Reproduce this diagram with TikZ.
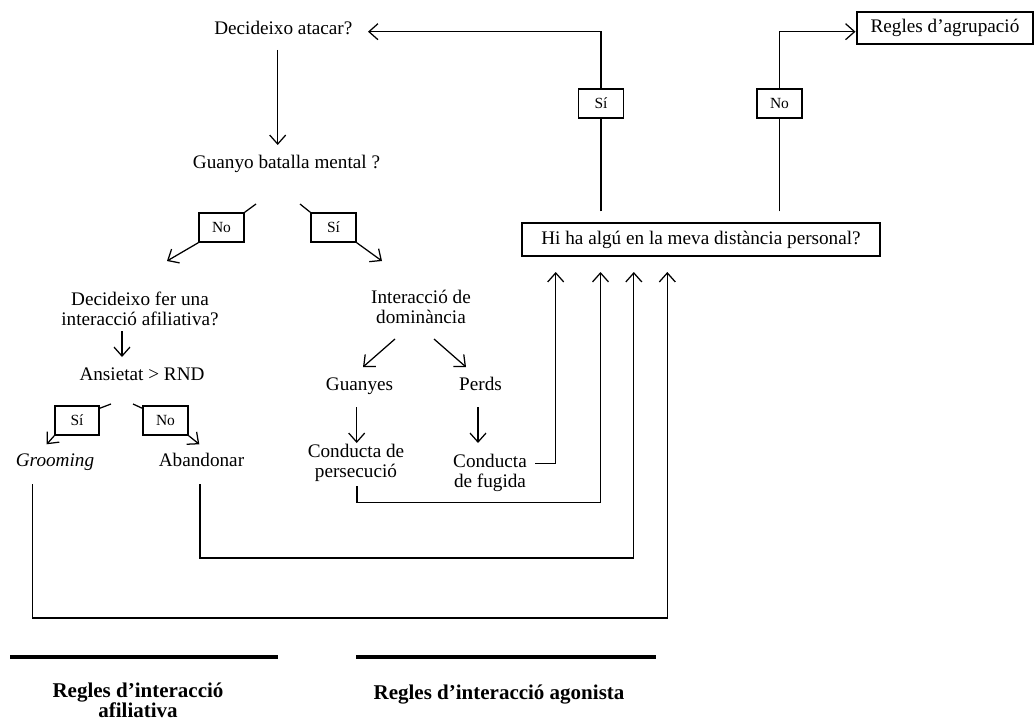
\documentclass[tikz,border=0pt]{standalone}
\usepackage{fontspec}
\setmainfont{Liberation Serif}
\usetikzlibrary{arrows.meta}

\newcommand\mainsz{\fontsize{19.2}{20}\selectfont}
\newcommand\lblsz{\fontsize{15.5}{17}\selectfont}
\newcommand\ttlsz{\fontsize{21}{19.5}\selectfont}

\tikzset{
  txt/.style={font=\mainsz, align=center, inner sep=0pt, anchor=base},
  lbl/.style={draw, fill=white, line width=1.5pt, minimum width=45pt,
              minimum height=29pt, inner sep=0pt, font=\lblsz},
  qbox/.style={draw, line width=1.4pt, inner sep=0pt, font=\mainsz},
  conn/.style={line width=1.25pt},
  arr/.style={conn, -{Straight Barb[length=9pt,width=16pt,line width=1.25pt]}},
  rulebar/.style={line width=3.3pt},
  ttl/.style={font=\ttlsz\bfseries, align=center, inner sep=0pt, anchor=base}
}

\begin{document}
\begin{tikzpicture}[x=1pt,y=-1pt]
\useasboundingbox (0,0) rectangle (1035,722);

% --- questions and outcomes (base = baseline of the last line) ----------
\node[txt] (att)  at (283.3,34.5) {Decideixo atacar?};
\node[txt] (gua)  at (286.5,168)  {Guanyo batalla mental ?};
\node[txt] (afil) at (140,325)    {Decideixo fer una\\interacció afiliativa?};
\node[txt] (ans)  at (142,380.5)  {Ansietat > RND};
\node[txt, font=\mainsz\itshape] (groo) at (55,466.5) {Grooming};
\node[txt] (aban) at (201.5,466.5) {Abandonar};
\node[txt] (dom)  at (421,323.3)  {Interacció de\\dominància};
\node[txt] (gue)  at (359.5,390)  {Guanyes};
\node[txt] (per)  at (480.5,390)  {Perds};
\node[txt] (pers) at (356,477)    {Conducta de\\persecució};
\node[txt] (fug)  at (490,487)    {Conducta\\de fugida};

\node[qbox, minimum width=358pt, minimum height=33pt] (hiha) at (701,239.5)
  {Hi ha algú en la meva distància personal?};
\node[qbox, minimum width=176pt, minimum height=32pt] (agr) at (945,28)
  {Regles d’agrupació};

% --- yes / no labels ----------------------------------------------------
\node[lbl] (no1) at (221.5,227.5) {No};
\node[lbl] (si1) at (333.5,227.5) {Sí};
\node[lbl, minimum width=44pt] (si2) at (77,420.5)  {Sí};
\node[lbl] (no2) at (165.5,420.5) {No};
\node[lbl] (si3) at (601,103.5)   {Sí};
\node[lbl] (no3) at (779.5,103.5) {No};

% --- connector end points -----------------------------------------------
\coordinate (attin) at (368,31.7);
\coordinate (agrin) at (855.5,31.7);
\coordinate (gtop)  at (277.7,50);
\coordinate (gbot)  at (277.7,145);
\coordinate (nol)   at (256,204);
\coordinate (noa)   at (167,261);
\coordinate (sil)   at (300,204);
\coordinate (sia)   at (382,261);
\coordinate (aftop) at (122,331);
\coordinate (afbot) at (122,357);
\coordinate (s2l)   at (111,404);
\coordinate (s2a)   at (46.7,444.3);
\coordinate (n2l)   at (133,404);
\coordinate (n2a)   at (199.3,444.3);
\coordinate (dl0)   at (395,339);
\coordinate (dl1)   at (363,367);
\coordinate (dr0)   at (434,339);
\coordinate (dr1)   at (466,367);
\coordinate (gu0)   at (356.7,407);
\coordinate (gu1)   at (356.7,443);
\coordinate (pe0)   at (478,407);
\coordinate (pe1)   at (478,443);
\coordinate (in1)   at (555.7,272);
\coordinate (in2)   at (600.5,272);
\coordinate (in3)   at (633.8,272);
\coordinate (in4)   at (667.3,272);
\coordinate (fu0)   at (535,463.5);
\coordinate (pr0)   at (357,486);
\coordinate (prc)   at (600.5,502.7);
\coordinate (ab0)   at (200,484);
\coordinate (abc)   at (633.8,558);
\coordinate (gr0)   at (32.3,484);
\coordinate (grc)   at (667.3,618);

% --- main flow ----------------------------------------------------------
\draw[arr] (gtop) -- (gbot);
\draw[conn] (nol) -- (no1.north east);
\draw[arr]  (no1.south west) -- (noa);
\draw[conn] (sil) -- (si1.north west);
\draw[arr]  (si1.south east) -- (sia);
\draw[arr] (aftop) -- (afbot);
\draw[conn] (s2l) -- ([yshift=-3pt]si2.north east);
\draw[arr]  (si2.south west) -- (s2a);
\draw[conn] (n2l) -- ([yshift=-3pt]no2.north west);
\draw[arr]  (no2.south east) -- (n2a);
\draw[arr] (dl0) -- (dl1);
\draw[arr] (dr0) -- (dr1);
\draw[arr] (gu0) -- (gu1);
\draw[arr] (pe0) -- (pe1);

% --- loops back to the personal-distance test ---------------------------
\draw[arr] (fu0) -| (in1);
\draw[arr] (pr0) |- (prc) -- (in2);
\draw[arr] (ab0) |- (abc) -- (in3);
\draw[arr] (gr0) |- (grc) -- (in4);

% --- outcomes of the personal-distance test -----------------------------
\draw[conn, shorten <=11pt] (hiha.north -| si3.south) -- (si3.south);
\draw[arr] (si3.north) |- (attin);
\draw[conn, shorten <=11pt] (hiha.north -| no3.south) -- (no3.south);
\draw[arr] (no3.north) |- (agrin);

% --- rule groups --------------------------------------------------------
\draw[rulebar] (10,657) -- (278,657);
\draw[rulebar] (356,657) -- (656,657);
\node[ttl] (tafil) at (138,717) {Regles d’interacció\\afiliativa};
\node[ttl] (tagon) at (499,699) {Regles d’interacció agonista};
\end{tikzpicture}
\end{document}
